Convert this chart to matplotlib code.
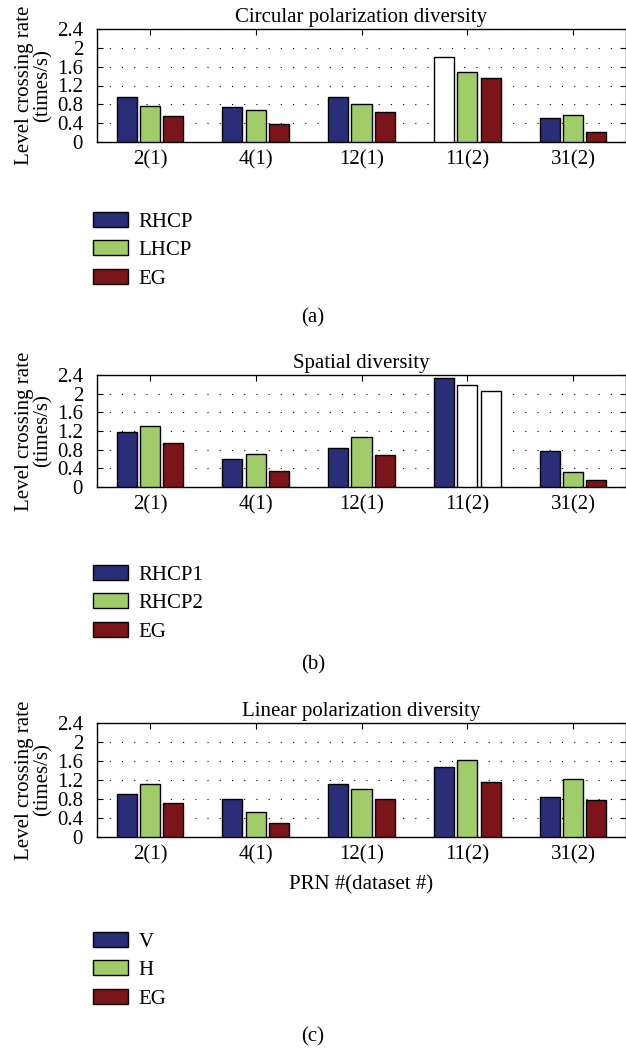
# libraries
import numpy as np
import matplotlib
matplotlib.use('Agg')
import matplotlib.pyplot as plt

# PRN #(dataset #) on the x axis
groups = ['2(1)', '4(1)', '12(1)', '11(2)', '31(2)']

# level crossing rate (times/s)
circ_rhcp = [0.95, 0.74, 0.95, 1.80, 0.50]
circ_lhcp = [0.77, 0.69, 0.80, 1.48, 0.58]
circ_eg = [0.55, 0.39, 0.635, 1.36, 0.22]

spat_rhcp1 = [1.17, 0.60, 0.83, 2.33, 0.77]
spat_rhcp2 = [1.31, 0.71, 1.07, 2.19, 0.32]
spat_eg = [0.95, 0.35, 0.68, 2.05, 0.16]

lin_v = [0.90, 0.80, 1.12, 1.48, 0.85]
lin_h = [1.12, 0.52, 1.02, 1.62, 1.23]
lin_eg = [0.71, 0.30, 0.80, 1.15, 0.77]

yticks = [0, 0.4, 0.8, 1.2, 1.6, 2, 2.4]
ytick_labels = ['0', '0.4', '0.8', '1.2', '1.6', '2', '2.4']

colors = ['#2A2E78', '#A1CC6A', '#7C1519']

plt.rcParams['font.family'] = 'serif'
plt.rcParams['font.serif'] = ['Liberation Serif', 'DejaVu Serif']
FS = 15

fig = plt.figure(figsize=(6.26, 10.51), dpi=100)

W, H = 626.0, 1051.0


def panel(top, bottom, title, series, names, hollow, legend_top, tag, tag_y, xlabel=None):
    ax = fig.add_axes([97 / W, 1 - bottom / H, 529 / W, (bottom - top) / H])
    x = np.arange(1, len(groups) + 1)
    offsets = [-0.22, 0, 0.22]
    handles = []
    for k, vals in enumerate(series):
        bars = ax.bar(x + offsets[k], vals, width=0.19, color=colors[k],
                      edgecolor='black', linewidth=1.0, zorder=3)
        # some bars are drawn as empty boxes
        for g in hollow.get(k, []):
            bars[g].set_facecolor('white')
        # legend swatch from a filled bar
        handles.append(bars[0])

    ax.set_xlim(0.5, 5.5)
    ax.set_ylim(0, 2.4)
    ax.set_xticks(x)
    ax.set_xticklabels(groups, fontsize=FS)
    ax.set_yticks(yticks)
    ax.set_yticklabels(ytick_labels, fontsize=FS)
    ax.tick_params(direction='in', top=True, right=True, length=4, width=0.8)
    ax.tick_params(axis='y', pad=10)
    ax.tick_params(axis='x', pad=6)
    ax.yaxis.grid(True, linestyle=(0, (1, 10)), color='black', linewidth=0.8, zorder=0)
    for s in ax.spines.values():
        s.set_linewidth(1.0)
    ax.set_title(title, fontsize=FS, pad=5)
    ax.set_ylabel('Level crossing rate\n(times/s)', fontsize=FS, labelpad=3, linespacing=1.0)
    if xlabel:
        ax.set_xlabel(xlabel, fontsize=FS, labelpad=8)

    fig.legend(handles, names, loc='upper left',
               bbox_to_anchor=(93 / W, 1 - legend_top / H),
               frameon=False, borderpad=0, borderaxespad=0,
               handlelength=1.7, handleheight=0.72,
               handletextpad=0.5, labelspacing=0.42, fontsize=FS)
    fig.text(0.5, 1 - tag_y / H, tag, ha='center', va='center', fontsize=FS)
    return ax


panel(29, 142, 'Circular polarization diversity',
      [circ_rhcp, circ_lhcp, circ_eg], ['RHCP', 'LHCP', 'EG'],
      {0: [3]}, 212, '(a)', 318)
panel(375, 487, 'Spatial diversity',
      [spat_rhcp1, spat_rhcp2, spat_eg], ['RHCP1', 'RHCP2', 'EG'],
      {1: [3], 2: [3]}, 565, '(b)', 665)
panel(723, 837, 'Linear polarization diversity',
      [lin_v, lin_h, lin_eg], ['V', 'H', 'EG'],
      {}, 932, '(c)', 1037, xlabel='PRN #(dataset #)')

plt.savefig('out.png', dpi=100)
